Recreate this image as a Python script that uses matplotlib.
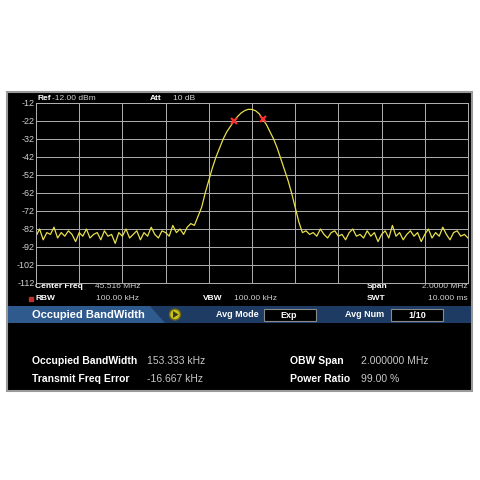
import numpy as np
import matplotlib.pyplot as plt
from matplotlib.patches import Rectangle, Polygon, Circle

plt.rcParams['font.family'] = ['Liberation Sans', 'DejaVu Sans']

# trace: 121 points over the 2 MHz span (dBm)
freq_offset = np.linspace(-1.0, 1.0, 121)
left_noise = [-86, -82, -88, -84, -85, -81, -87, -84, -86, -83, -85, -89, -84, -86, -82,
              -87, -85, -84, -88, -83, -86, -85, -90, -84, -86, -82, -87, -85, -83, -88,
              -84, -86, -81, -85, -87, -83, -84, -86, -80, -84, -82, -85, -81, -79]
lobe = [-80, -75, -70, -62, -55, -48, -42, -37, -32, -28, -25, -22, -19.5, -17.5, -16.2,
        -15.5, -15.6, -16.3, -18, -21, -24, -28, -32, -37, -43, -49, -55, -62, -70, -78, -84]
right_noise = [-83, -85, -84, -86, -82, -85, -87, -84, -83, -86, -85, -88, -84, -82, -86,
               -85, -87, -83, -86, -84, -89, -85, -83, -87, -80, -86, -84, -88, -85, -83,
               -86, -84, -89, -85, -82, -87, -84, -86, -81, -85, -88, -84, -83, -86, -85, -87]
trace = np.array(left_noise + lobe + right_noise)
marker_idx = [55, 63]

y_ticks = [-12, -22, -32, -42, -52, -62, -72, -82, -92, -102, -112]

W = H = 480
fig = plt.figure(figsize=(4.8, 4.8), dpi=100, facecolor='white')
bg = fig.add_axes([0, 0, 1, 1])
bg.set_xlim(0, W)
bg.set_ylim(H, 0)
bg.axis('off')

# instrument screen
bg.add_patch(Rectangle((7, 92), 465, 299, facecolor='black', edgecolor='#9a9a9a', lw=1.5))
# blue status bar
bg.add_patch(Rectangle((8, 306), 463, 17, facecolor='#1d3b63', edgecolor='none'))
bg.add_patch(Polygon([(8, 306), (150, 306), (165, 323), (8, 323)], closed=True,
                     facecolor='#2f5a8e', edgecolor='none'))
bg.text(32, 314.5, 'Occupied BandWidth', color='white', fontsize=8, fontweight='bold', va='center')
bg.add_patch(Circle((175, 314.5), 5.5, facecolor='#c8c020', edgecolor='#6b6510'))
bg.add_patch(Polygon([(173, 311), (173, 318), (178.5, 314.5)], closed=True, facecolor='#3a3a10'))
bg.text(216, 314.5, 'Avg Mode', color='white', fontsize=6.5, fontweight='bold', va='center')
bg.add_patch(Rectangle((264, 309), 52, 12, facecolor='black', edgecolor='#8a8a8a', lw=0.8))
bg.text(289, 315, 'Exp', color='white', fontsize=6.5, fontweight='bold', va='center', ha='center')
bg.text(345, 314.5, 'Avg Num', color='white', fontsize=6.5, fontweight='bold', va='center')
bg.add_patch(Rectangle((391, 309), 52, 12, facecolor='black', edgecolor='#8a8a8a', lw=0.8))
bg.text(417, 315, '1/10', color='white', fontsize=6.5, fontweight='bold', va='center', ha='center')

# result readouts
bg.text(32, 361, 'Occupied BandWidth', color='white', fontsize=7.5, fontweight='bold', va='center')
bg.text(147, 361, '153.333 kHz', color='#c8c8c8', fontsize=7.5, va='center')
bg.text(32, 379, 'Transmit Freq Error', color='white', fontsize=7.5, fontweight='bold', va='center')
bg.text(147, 379, '-16.667 kHz', color='#c8c8c8', fontsize=7.5, va='center')
bg.text(290, 361, 'OBW Span', color='white', fontsize=7.5, fontweight='bold', va='center')
bg.text(361, 361, '2.000000 MHz', color='#c8c8c8', fontsize=7.5, va='center')
bg.text(290, 379, 'Power Ratio', color='white', fontsize=7.5, fontweight='bold', va='center')
bg.text(361, 379, '99.00 %', color='#c8c8c8', fontsize=7.5, va='center')

# settings lines under the grid
info = dict(color='white', fontsize=6, va='center')
bg.text(35, 287, 'Center Freq', fontweight='bold', **info)
bg.text(95, 287, '45.516 MHz', color='#d0d0d0', fontsize=6, va='center')
bg.text(367, 287, 'Span', fontweight='bold', **info)
bg.text(468, 287, '2.0000 MHz', color='#d0d0d0', fontsize=6, va='center', ha='right')
bg.plot([31], [298.5], 's', color='#c03030', ms=2.5)
bg.text(35, 298.5, 'RBW', fontweight='bold', **info)
bg.text(96, 298.5, '100.00 kHz', color='#d0d0d0', fontsize=6, va='center')
bg.text(203, 298.5, 'VBW', fontweight='bold', **info)
bg.text(234, 298.5, '100.00 kHz', color='#d0d0d0', fontsize=6, va='center')
bg.text(367, 298.5, 'SWT', fontweight='bold', **info)
bg.text(468, 298.5, '10.000 ms', color='#d0d0d0', fontsize=6, va='center', ha='right')

# header
bg.text(37, 99, 'Ref', color='white', fontsize=6, fontweight='bold', va='center')
bg.text(52, 99, '-12.00 dBm', color='#d0d0d0', fontsize=6, va='center')
bg.text(150, 99, 'Att', color='white', fontsize=6, fontweight='bold', va='center')
bg.text(173, 99, '10 dB', color='#d0d0d0', fontsize=6, va='center')

# spectrum grid
ax = fig.add_axes([36 / W, 1 - 283 / H, 432 / W, 180 / H])
ax.set_facecolor('black')
ax.plot(freq_offset, trace, color='#e8e04a', lw=0.9)
ax.plot(freq_offset[marker_idx], trace[marker_idx], 'x', color='#ff3030', ms=5, mew=1.5)
ax.set_xlim(-1, 1)
ax.set_ylim(-112, -12)
ax.set_xticks(np.linspace(-1, 1, 11))
ax.set_yticks(y_ticks)
ax.set_yticklabels([str(v) for v in y_ticks])
ax.tick_params(axis='x', length=0, labelbottom=False)
ax.tick_params(axis='y', length=0, pad=1, labelsize=6.5, labelcolor='#d0d0d0')
ax.grid(True, color='#b0b0b0', lw=0.7)
for s in ax.spines.values():
    s.set_color('#b0b0b0')
    s.set_linewidth(0.7)

fig.savefig('out.png', dpi=100, facecolor='white')
